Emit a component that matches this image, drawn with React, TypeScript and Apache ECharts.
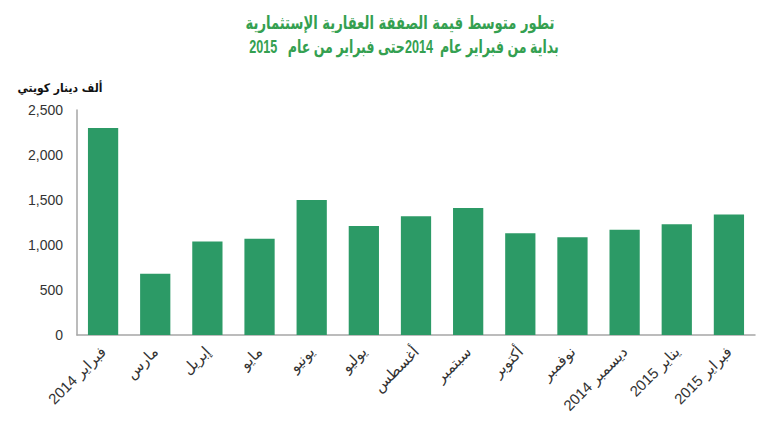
import React, { useEffect, useRef } from "react";
import * as echarts from "echarts";

const categories = [
  "فبراير 2014",
  "مارس",
  "إبريل",
  "مايو",
  "يونيو",
  "يوليو",
  "أغسطس",
  "سبتمبر",
  "أكتوبر",
  "نوفمبر",
  "ديسمبر 2014",
  "يناير 2015",
  "فبراير 2015",
];
const values = [2300, 680, 1040, 1070, 1500, 1210, 1320, 1410, 1130, 1085, 1170, 1230, 1340];
const titleLine1 = "تطور متوسط قيمة الصفقة العقارية الإستثمارية";
const titleLine2 = "بداية من فبراير عام  2014حتى فبراير من عام   2015";
const yAxisName = "ألف دينار كويتي";

export default function App() {
  const ref = useRef<HTMLDivElement>(null);
  useEffect(() => {
    const chart = echarts.init(ref.current!, null, { renderer: "svg" });
    chart.setOption({
      animation: false,
      backgroundColor: "#ffffff",
      grid: { left: 77, right: 15, top: 110, bottom: 89 },
      graphic: [
        {
          type: "text",
          x: 400,
          y: 23,
          scaleX: 0.73,
          style: {
            text: titleLine1,
            fill: "#34a050",
            font: "bold 18px 'DejaVu Sans', sans-serif",
            align: "center",
            verticalAlign: "middle",
          },
        },
        {
          type: "text",
          x: 404,
          y: 47,
          scaleX: 0.7,
          style: {
            text: titleLine2,
            fill: "#34a050",
            font: "bold 18px 'Liberation Sans', 'DejaVu Sans', sans-serif",
            align: "center",
            verticalAlign: "middle",
          },
        },
        {
          type: "text",
          x: 60,
          y: 88,
          scaleX: 0.9,
          style: {
            text: yAxisName,
            fill: "#111",
            font: "bold 12px 'DejaVu Sans', sans-serif",
            align: "center",
            verticalAlign: "middle",
          },
        },
      ],
      xAxis: {
        type: "category",
        data: categories,
        axisLine: { lineStyle: { color: "#a6a6a6", width: 1.5 } },
        axisTick: { show: false },
        axisLabel: {
          rotate: 45,
          interval: 0,
          color: "#333",
          fontSize: 15,
          fontFamily: "'Liberation Sans', 'DejaVu Sans', sans-serif",
          margin: 14,
        },
      },
      yAxis: {
        type: "value",
        min: 0,
        max: 2500,
        interval: 500,
        splitLine: { show: false },
        axisLine: { show: true, lineStyle: { color: "#a6a6a6", width: 1.5 } },
        axisTick: { show: false },
        axisLabel: {
          color: "#333",
          fontSize: 14,
          fontFamily: "'Liberation Sans', sans-serif",
          margin: 14,
          formatter: (v: number) => v.toLocaleString("en-US"),
        },
      },
      series: [
        {
          type: "bar",
          data: values,
          barCategoryGap: "42%",
          itemStyle: { color: "#2c9a66" },
        },
      ],
    });
    return () => chart.dispose();
  }, []);
  return (
    <div
      ref={ref}
      style={{ position: "fixed", left: 0, top: 0, width: 770, height: 424 }}
    />
  );
}
